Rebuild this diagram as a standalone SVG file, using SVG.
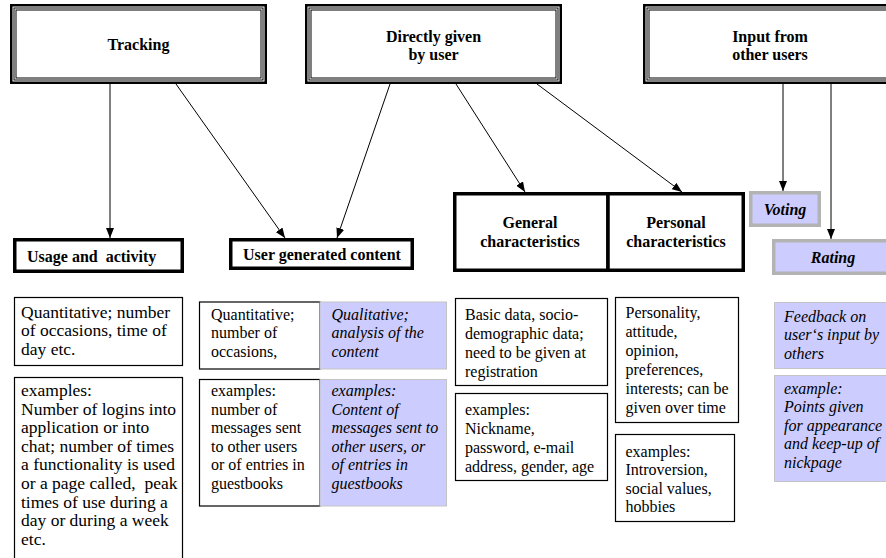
<svg xmlns="http://www.w3.org/2000/svg" width="886" height="558" viewBox="0 0 886 558" font-family="Liberation Serif, Times New Roman, serif">
<defs>
<style>
.bg{fill:#ffffff}
.t3o{fill:#ffffff;stroke:#000;stroke-width:2.5}
.t3m{fill:none;stroke:#000;stroke-width:1}
.hd{font-size:16px;font-weight:bold;fill:#000;text-anchor:middle}
.hl{font-size:16px;font-weight:bold;fill:#000}
.hi{font-size:16px;font-weight:bold;font-style:italic;fill:#000;text-anchor:middle}
.thick{fill:#ffffff;stroke:#000;stroke-width:3.5}
.grey{fill:#ccccff;stroke:#b3b3b3;stroke-width:3.5}
.box{fill:#ffffff;stroke:#000;stroke-width:1.2}
.lav{fill:#ccccff;stroke:#c4c4c4;stroke-width:1}
.tx{font-size:16px;fill:#000}
.txa{font-size:17.5px;fill:#000}
.it{font-size:16px;font-style:italic;fill:#000}
.ln{stroke:#000;stroke-width:1;fill:none;marker-end:url(#ah)}
</style>
<marker id="ah" markerUnits="userSpaceOnUse" viewBox="0 0 10 8" refX="10" refY="4" markerWidth="10" markerHeight="8" orient="auto">
<path d="M0,0 L10,4 L0,8 z" fill="#000"/>
</marker>
</defs>
<rect class="bg" x="0" y="0" width="886" height="558"/>

<g id="tracking">
<rect class="t3o" x="11.25" y="5.25" width="254.5" height="77.5"/>
<rect class="t3m" x="14" y="8" width="249" height="72"/>
<rect class="t3m" x="16" y="10" width="245" height="68"/>
<text class="hd" x="138.5" y="50" font-family="Liberation Serif">Tracking</text>
</g>

<g id="directly">
<rect class="t3o" x="306.25" y="5.25" width="254.5" height="77.5"/>
<rect class="t3m" x="309" y="8" width="249" height="72"/>
<rect class="t3m" x="311" y="10" width="245" height="68"/>
<text class="hd" x="433.5" y="42">Directly given</text>
<text class="hd" x="433.5" y="60">by user</text>
</g>

<g id="input">
<rect class="t3o" x="644.25" y="5.25" width="254.5" height="77.5"/>
<rect class="t3m" x="647" y="8" width="249" height="72"/>
<rect class="t3m" x="649" y="10" width="245" height="68"/>
<text class="hd" x="770" y="42">Input from</text>
<text class="hd" x="770" y="60">other users</text>
</g>

<g id="connectors">
<line class="ln" x1="110" y1="84" x2="110" y2="238"/>
<line class="ln" x1="176" y1="84" x2="285" y2="238"/>
<line class="ln" x1="390" y1="84" x2="337" y2="238"/>
<line class="ln" x1="456" y1="84" x2="525" y2="192"/>
<line class="ln" x1="537" y1="84" x2="682" y2="192"/>
<line class="ln" x1="783" y1="84" x2="783" y2="191"/>
<line class="ln" x1="831" y1="84" x2="831" y2="239"/>
</g>

<g id="usage">
<rect class="thick" x="14.75" y="239.75" width="167.5" height="31.5"/>
<text class="hl" x="27" y="262">Usage and&#160; activity</text>
</g>

<g id="ugc">
<rect class="thick" x="230.75" y="239.75" width="181.5" height="28.5"/>
<text class="hd" x="322" y="260">User generated content</text>
</g>

<g id="general">
<rect class="thick" x="454.75" y="193.75" width="153.25" height="76.5"/>
<text class="hd" x="530" y="228">General</text>
<text class="hd" x="530" y="247">characteristics</text>
</g>

<g id="personal">
<rect class="thick" x="608" y="193.75" width="135.25" height="76.5"/>
<text class="hd" x="676" y="228">Personal</text>
<text class="hd" x="676" y="247">characteristics</text>
</g>

<g id="voting">
<rect class="grey" x="750.75" y="192.75" width="68.5" height="32.5"/>
<text class="hi" x="785" y="215">Voting</text>
</g>

<g id="rating">
<rect class="grey" x="773.75" y="240.75" width="125" height="32.5"/>
<text class="hi" x="833" y="263">Rating</text>
</g>

<g id="usage-desc">
<rect class="box" x="14.5" y="297.5" width="168" height="68"/>
<text class="txa" x="21" y="317.5">Quantitative; number</text>
<text class="txa" x="21" y="336">of occasions, time of</text>
<text class="txa" x="21" y="354.5">day etc.</text>
</g>

<g id="usage-examples">
<rect class="box" x="14.5" y="377.5" width="168" height="190"/>
<text class="txa" x="21" y="396">examples:</text>
<text class="txa" x="21" y="414.6">Number of logins into</text>
<text class="txa" x="21" y="433.2">application or into</text>
<text class="txa" x="21" y="451.8">chat; number of times</text>
<text class="txa" x="21" y="470.4">a functionality is used</text>
<text class="txa" x="21" y="489">or a page called,&#160; peak</text>
<text class="txa" x="21" y="507.6">times of use during a</text>
<text class="txa" x="21" y="526.2">day or during a week</text>
<text class="txa" x="21" y="544.8">etc.</text>
</g>

<g id="ugc-quant">
<rect class="box" x="199.5" y="302" width="120.5" height="67"/>
<text class="tx" x="211" y="319.5">Quantitative;</text>
<text class="tx" x="211" y="338">number of</text>
<text class="tx" x="211" y="356.5">occasions,</text>
</g>

<g id="ugc-qual">
<rect class="lav" x="320" y="302" width="126.5" height="67"/>
<text class="it" x="331.5" y="319.5">Qualitative;</text>
<text class="it" x="331.5" y="338">analysis of the</text>
<text class="it" x="331.5" y="356.5">content</text>
</g>

<g id="ugc-quant-examples">
<rect class="box" x="199.5" y="379.5" width="120.5" height="126.5"/>
<text class="tx" x="211" y="396">examples:</text>
<text class="tx" x="211" y="414.6">number of</text>
<text class="tx" x="211" y="433.2">messages sent</text>
<text class="tx" x="211" y="451.8">to other users</text>
<text class="tx" x="211" y="470.4">or of entries in</text>
<text class="tx" x="211" y="489">guestbooks</text>
</g>

<g id="ugc-qual-examples">
<rect class="lav" x="320" y="379.5" width="126.5" height="126.5"/>
<text class="it" x="331.5" y="396">examples:</text>
<text class="it" x="331.5" y="414.6">Content of</text>
<text class="it" x="331.5" y="433.2">messages sent to</text>
<text class="it" x="331.5" y="451.8">other users, or</text>
<text class="it" x="331.5" y="470.4">of entries in</text>
<text class="it" x="331.5" y="489">guestbooks</text>
</g>

<g id="general-desc">
<rect class="box" x="455.5" y="298.5" width="152" height="87"/>
<text class="tx" x="465" y="320">Basic data, socio-</text>
<text class="tx" x="465" y="339">demographic data;</text>
<text class="tx" x="465" y="358">need to be given at</text>
<text class="tx" x="465" y="377">registration</text>
</g>

<g id="general-examples">
<rect class="box" x="455.5" y="393.5" width="152" height="87"/>
<text class="tx" x="465" y="415">examples:</text>
<text class="tx" x="465" y="434">Nickname,</text>
<text class="tx" x="465" y="453">password, e-mail</text>
<text class="tx" x="465" y="472">address, gender, age</text>
</g>

<g id="personal-desc">
<rect class="box" x="615.5" y="297.5" width="123" height="125"/>
<text class="tx" x="625.5" y="318">Personality,</text>
<text class="tx" x="625.5" y="337">attitude,</text>
<text class="tx" x="625.5" y="356">opinion,</text>
<text class="tx" x="625.5" y="375">preferences,</text>
<text class="tx" x="625.5" y="394">interests; can be</text>
<text class="tx" x="625.5" y="413">given over time</text>
</g>

<g id="personal-examples">
<rect class="box" x="615.5" y="434.5" width="119" height="87"/>
<text class="tx" x="625.5" y="456.5">examples:</text>
<text class="tx" x="625.5" y="475">Introversion,</text>
<text class="tx" x="625.5" y="493.5">social values,</text>
<text class="tx" x="625.5" y="512">hobbies</text>
</g>

<g id="rating-desc">
<rect class="lav" x="774.5" y="302.5" width="120" height="66"/>
<text class="it" x="784" y="321.5">Feedback on</text>
<text class="it" x="784" y="340">user‘s input by</text>
<text class="it" x="784" y="358.5">others</text>
</g>

<g id="rating-example">
<rect class="lav" x="774.5" y="375.5" width="120" height="106"/>
<text class="it" x="784" y="393.5">example:</text>
<text class="it" x="784" y="412">Points given</text>
<text class="it" x="784" y="430.5">for appearance</text>
<text class="it" x="784" y="449">and keep-up of</text>
<text class="it" x="784" y="467.5">nickpage</text>
</g>
</svg>
